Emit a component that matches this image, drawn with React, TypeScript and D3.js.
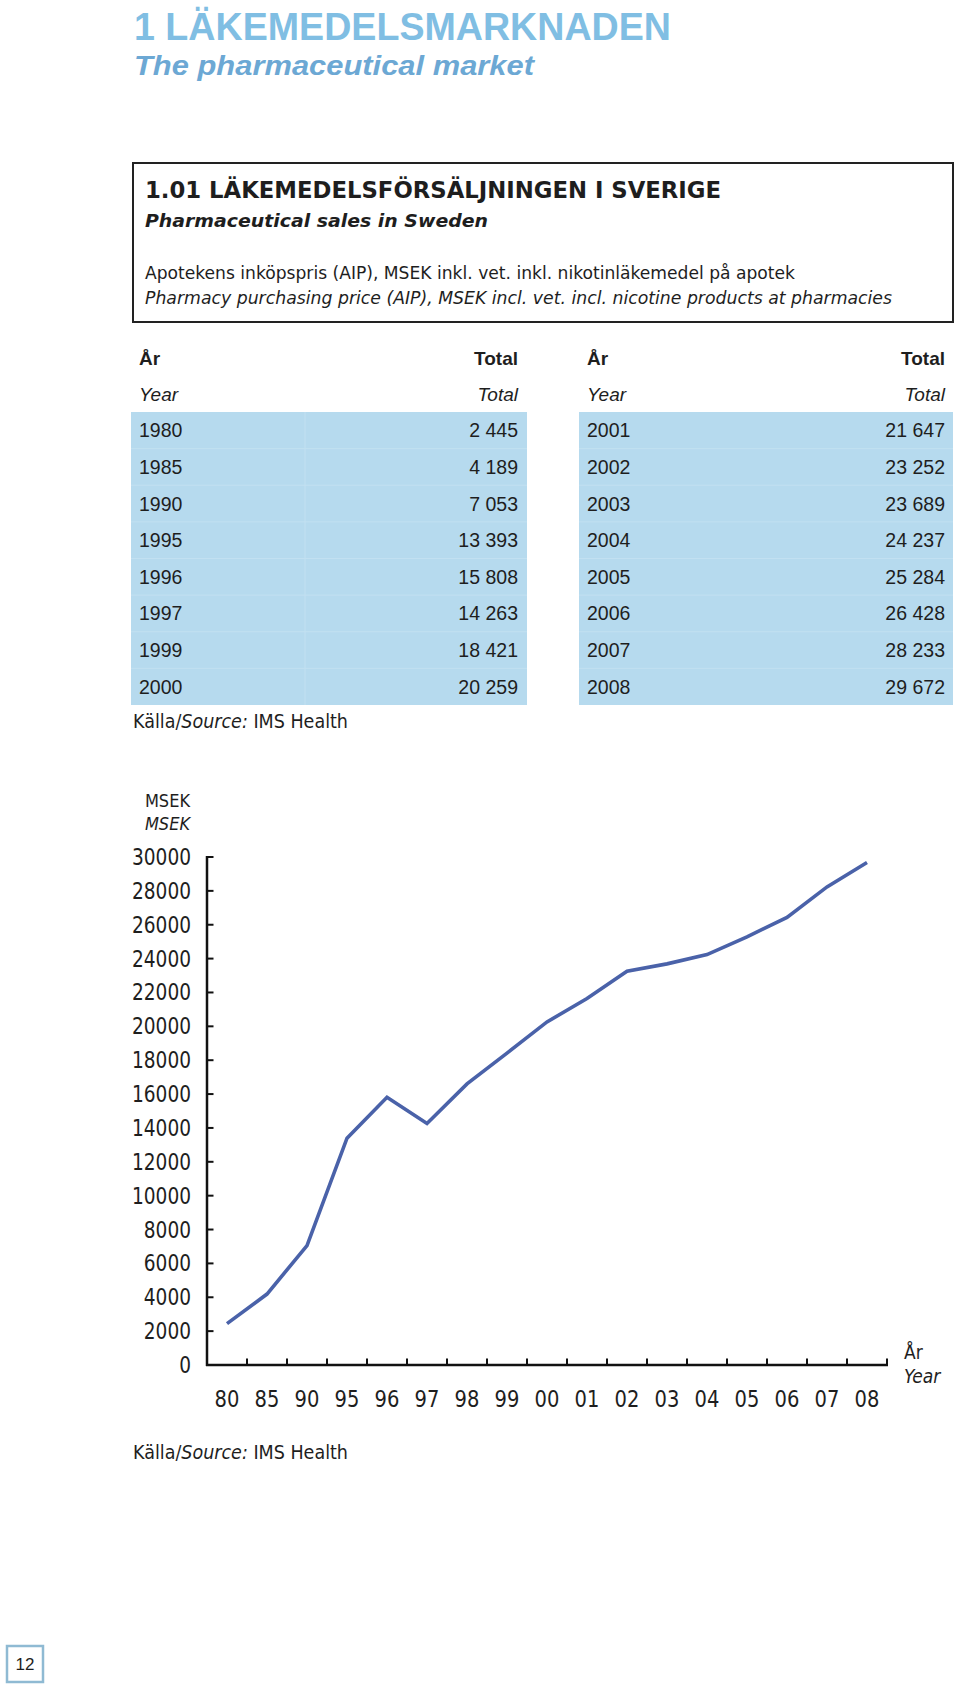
import React from "react";
import * as d3 from "d3";

// ---- data ----
const leftYears = ["1980", "1985", "1990", "1995", "1996", "1997", "1999", "2000"];
const leftTotals = ["2 445", "4 189", "7 053", "13 393", "15 808", "14 263", "18 421", "20 259"];
const rightYears = ["2001", "2002", "2003", "2004", "2005", "2006", "2007", "2008"];
const rightTotals = ["21 647", "23 252", "23 689", "24 237", "25 284", "26 428", "28 233", "29 672"];

const chartCategories = ["80", "85", "90", "95", "96", "97", "98", "99", "00", "01", "02", "03", "04", "05", "06", "07", "08"];
const chartValues = [2445, 4189, 7053, 13393, 15808, 14263, 16600, 18421, 20259, 21647, 23252, 23689, 24237, 25284, 26428, 28233, 29672];
const yTicks = [0, 2000, 4000, 6000, 8000, 10000, 12000, 14000, 16000, 18000, 20000, 22000, 24000, 26000, 28000, 30000];

const NARROW = "'Liberation Sans Narrow', 'DejaVu Sans Condensed', 'Arial Narrow', sans-serif";
const SANS = "'Liberation Sans', Arial, sans-serif";
const TXT = "#1e1e1e";
const DIGIT_W = 11.8;

function Table({ years, totals, x0, x1, yearX, totX, divider }: any) {
  const rows = d3.scaleBand<number>().domain(d3.range(years.length)).range([412, 705]);
  return (
    <g>
      <text x={yearX} y={365} fontFamily={SANS} fontWeight="bold" fontSize={19} fill={TXT}>År</text>
      <text x={totX} y={365} fontFamily={SANS} fontWeight="bold" fontSize={19} fill={TXT} textAnchor="end">Total</text>
      <text x={yearX} y={401} fontFamily={SANS} fontStyle="italic" fontSize={19} fill={TXT}>Year</text>
      <text x={totX} y={401} fontFamily={SANS} fontStyle="italic" fontSize={19} fill={TXT} textAnchor="end">Total</text>
      <rect x={x0} y={412} width={x1 - x0} height={293} fill="#b6daee" />
      {divider && <line x1={divider} x2={divider} y1={412} y2={705} stroke="#c2e0f1" strokeWidth={1} />}
      {years.map((_: string, i: number) =>
        i > 0 ? (
          <line key={"s" + i} x1={x0} x2={x1} y1={rows(i)!} y2={rows(i)!} stroke="#c2e0f1" strokeWidth={1} />
        ) : null
      )}
      {years.map((yv: string, i: number) => {
        const cy = rows(i)! + rows.bandwidth() / 2 + 7;
        return (
          <g key={yv}>
            <text x={yearX} y={cy} fontFamily={SANS} fontSize={19.5} fill={TXT}>{yv}</text>
            <text x={totX} y={cy} fontFamily={SANS} fontSize={19.5} fill={TXT} textAnchor="end">{totals[i]}</text>
          </g>
        );
      })}
    </g>
  );
}

export default function App() {
  const x = d3.scaleBand<string>().domain(chartCategories).range([207, 887]).padding(0);
  const y = d3.scaleLinear().domain([0, 30000]).range([1365, 857]);
  const bw = x.bandwidth();
  const line = d3
    .line<number>()
    .x((_, i) => x(chartCategories[i])! + bw / 2)
    .y((v) => y(v));

  return (
    <svg
      width={960}
      height={1692}
      viewBox="0 0 960 1692"
      style={{ position: "absolute", left: 0, top: 0, background: "#fff" }}
    >
      <rect x={0} y={0} width={960} height={1692} fill="#fff" />
      {/* page titles */}
      <text x={134} y={40} fontFamily={SANS} fontWeight="bold" fontSize={39} fill="#80bee3" textLength={537} lengthAdjust="spacingAndGlyphs">
        1 LÄKEMEDELSMARKNADEN
      </text>
      <text x={134} y={75} fontFamily={SANS} fontWeight="bold" fontStyle="italic" fontSize={27} fill="#6ca8d4" textLength={400} lengthAdjust="spacingAndGlyphs">
        The pharmaceutical market
      </text>

      {/* header box */}
      <rect x={133} y={163} width={820} height={159} fill="none" stroke="#222" strokeWidth={2} />
      <text x={145} y={198} fontFamily={NARROW} fontWeight="bold" fontSize={23} fill={TXT} textLength={576} lengthAdjust="spacingAndGlyphs">
        1.01 LÄKEMEDELSFÖRSÄLJNINGEN I SVERIGE
      </text>
      <text x={145} y={227} fontFamily={NARROW} fontWeight="bold" fontStyle="italic" fontSize={18.5} fill={TXT} textLength={343} lengthAdjust="spacingAndGlyphs">
        Pharmaceutical sales in Sweden
      </text>
      <text x={145} y={279} fontFamily={NARROW} fontSize={18} fill={TXT} textLength={650} lengthAdjust="spacingAndGlyphs">
        Apotekens inköpspris (AIP), MSEK inkl. vet. inkl. nikotinläkemedel på apotek
      </text>
      <text x={145} y={304} fontFamily={NARROW} fontStyle="italic" fontSize={18} fill={TXT} textLength={747} lengthAdjust="spacingAndGlyphs">
        Pharmacy purchasing price (AIP), MSEK incl. vet. incl. nicotine products at pharmacies
      </text>

      {/* tables */}
      <Table years={leftYears} totals={leftTotals} x0={131} x1={527} yearX={139} totX={518} divider={305} />
      <Table years={rightYears} totals={rightTotals} x0={579} x1={953} yearX={587} totX={945} divider={null} />

      <text x={133} y={728} fontFamily={NARROW} fontSize={20} fill={TXT} textLength={215} lengthAdjust="spacingAndGlyphs">
        Källa/<tspan fontStyle="italic">Source:</tspan> IMS Health
      </text>

      {/* chart */}
      <text x={190} y={807} fontFamily={NARROW} fontSize={18} fill={TXT} textAnchor="end">MSEK</text>
      <text x={190} y={830} fontFamily={NARROW} fontStyle="italic" fontSize={18} fill={TXT} textAnchor="end">MSEK</text>

      {yTicks.map((t) => (
        <g key={t}>
          <line x1={207} x2={213.5} y1={y(t)} y2={y(t)} stroke="#111" strokeWidth={2} />
          <text
            x={191}
            y={y(t) + 8}
            fontFamily={NARROW}
            fontSize={23}
            fill={TXT}
            textAnchor="end"
            textLength={String(t).length * DIGIT_W}
            lengthAdjust="spacingAndGlyphs"
          >
            {t}
          </text>
        </g>
      ))}
      {chartCategories.map((c) => (
        <g key={c}>
          <line x1={x(c)! + bw} x2={x(c)! + bw} y1={y(0)} y2={y(0) - 6.5} stroke="#111" strokeWidth={2} />
          <text
            x={x(c)! + bw / 2}
            y={1407}
            fontFamily={NARROW}
            fontSize={23}
            fill={TXT}
            textAnchor="middle"
            textLength={c.length * 12.4}
            lengthAdjust="spacingAndGlyphs"
          >
            {c}
          </text>
        </g>
      ))}
      <line x1={207} x2={207} y1={y(30000) - 1} y2={y(0) + 1} stroke="#111" strokeWidth={2.5} />
      <line x1={206} x2={888} y1={y(0)} y2={y(0)} stroke="#111" strokeWidth={2.5} />

      <path d={line(chartValues) || ""} fill="none" stroke="#4a62a9" strokeWidth={3.6} strokeLinejoin="miter" />

      <text x={904} y={1359} fontFamily={NARROW} fontSize={19} fill={TXT}>År</text>
      <text x={904} y={1383} fontFamily={NARROW} fontStyle="italic" fontSize={19} fill={TXT}>Year</text>

      <text x={133} y={1459} fontFamily={NARROW} fontSize={20} fill={TXT} textLength={215} lengthAdjust="spacingAndGlyphs">
        Källa/<tspan fontStyle="italic">Source:</tspan> IMS Health
      </text>

      {/* page number */}
      <rect x={7} y={1646} width={36} height={36} fill="#fff" stroke="#8fbad3" strokeWidth={2.5} />
      <text x={25} y={1670} fontFamily={SANS} fontSize={17} fill={TXT} textAnchor="middle">12</text>
    </svg>
  );
}
